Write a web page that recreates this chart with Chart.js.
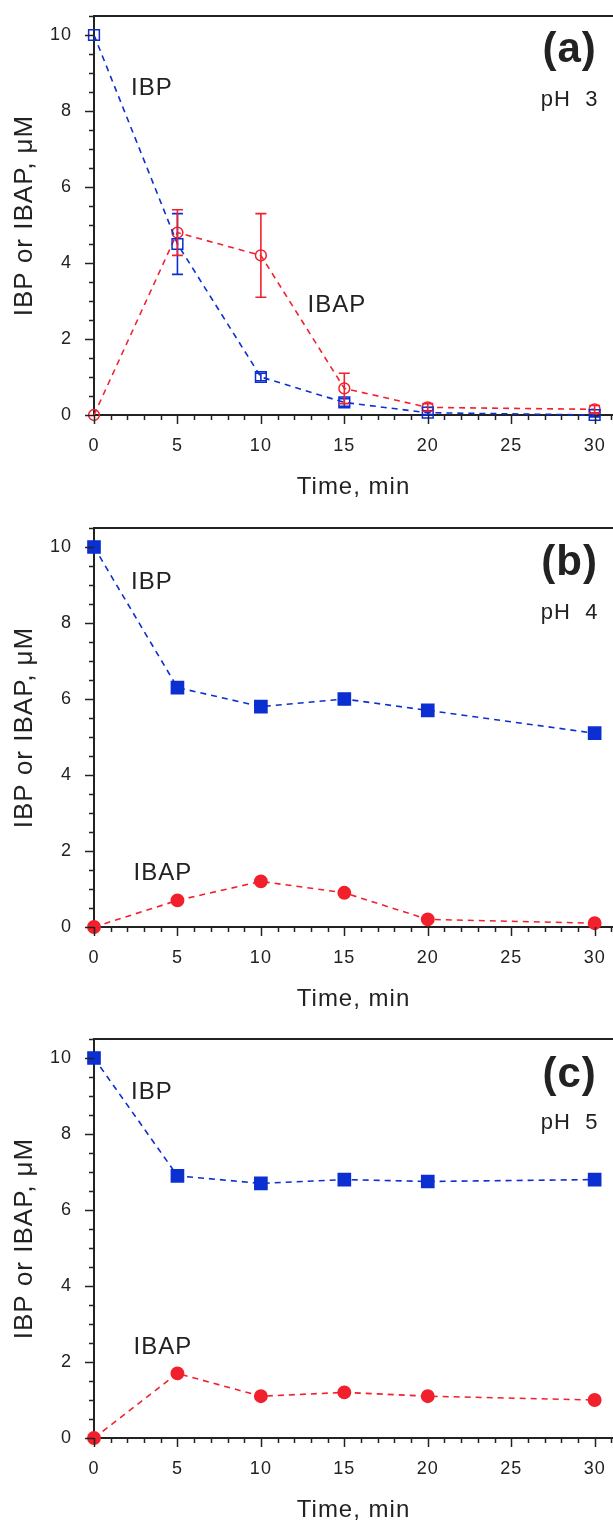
<!DOCTYPE html>
<html>
<head>
<meta charset="utf-8">
<script src="https://cdn.jsdelivr.net/npm/chart.js@4.4.1/dist/chart.umd.min.js"></script>
<style>
  html, body { margin: 0; padding: 0; background: #fff; overflow: hidden; width: 613px; height: 1521px; }
  .panel { position: absolute; left: 0; width: 613px; height: 500px; }
  .panel canvas { display: block; }
</style>
</head>
<body>
<div class="panel" style="top:0px"><canvas id="panelA" width="613" height="500"></canvas></div>
<div class="panel" style="top:512px"><canvas id="panelB" width="613" height="500"></canvas></div>
<div class="panel" style="top:1023px"><canvas id="panelC" width="613" height="500"></canvas></div>
<script>
// sampling times (min)
const times = [0, 5, 10, 15, 20, 30];

// pH 3 (open symbols, with error bars)
const ibpPh3 = [10, 4.5, 1.0, 0.33, 0.06, 0.0];
const ibpErrPh3 = [0, 0.8, 0.1, 0.1, 0.05, 0.05];
const ibapPh3 = [0, 4.8, 4.2, 0.7, 0.2, 0.15];
const ibapErrPh3 = [0, 0.6, 1.1, 0.4, 0.1, 0.1];

// pH 4
const ibpPh4 = [10, 6.3, 5.8, 6.0, 5.7, 5.1];
const ibapPh4 = [0, 0.7, 1.2, 0.9, 0.2, 0.1];

// pH 5
const ibpPh5 = [10, 6.9, 6.7, 6.8, 6.75, 6.8];
const ibapPh5 = [0, 1.7, 1.1, 1.2, 1.1, 1.0];

const xTickLabels = [0, 5, 10, 15, 20, 25, 30];
const yTickLabels = [0, 2, 4, 6, 8, 10];

const BLUE = '#0b2fd0';
const RED = '#f2202c';
const INK = '#222';
const FONT = "'Liberation Sans', Arial, sans-serif";

const toPoints = (vals) => times.map((t, i) => ({ x: t, y: vals[i] }));

// axis frame, tick marks, error bars and panel notes
const framePlugin = {
  id: 'frame',
  beforeDraw(chart) {
    chart.ctx.letterSpacing = '1px';
  },
  afterDatasetsDraw(chart) {
    const { ctx } = chart;
    const y = chart.scales.y;
    ctx.save();
    chart.data.datasets.forEach((ds, di) => {
      if (!ds.errors) return;
      const meta = chart.getDatasetMeta(di);
      ctx.strokeStyle = ds.borderColor;
      ctx.lineWidth = 1.6;
      meta.data.forEach((pt, i) => {
        const e = ds.errors[i];
        if (!e) return;
        const v = ds.data[i].y;
        const y1 = y.getPixelForValue(v - e);
        const y2 = y.getPixelForValue(v + e);
        ctx.beginPath();
        ctx.moveTo(pt.x, y1); ctx.lineTo(pt.x, y2);
        ctx.moveTo(pt.x - 5.5, y1); ctx.lineTo(pt.x + 5.5, y1);
        ctx.moveTo(pt.x - 5.5, y2); ctx.lineTo(pt.x + 5.5, y2);
        ctx.stroke();
      });
    });
    ctx.restore();
  },
  afterDraw(chart, args, opts) {
    const { ctx, chartArea } = chart;
    const x = chart.scales.x;
    const y = chart.scales.y;
    ctx.save();
    ctx.strokeStyle = INK;
    ctx.lineWidth = 2;
    ctx.beginPath();
    ctx.moveTo(chartArea.left - 1, chartArea.top);
    ctx.lineTo(chartArea.right, chartArea.top);
    ctx.stroke();

    ctx.lineWidth = 1.5;
    ctx.beginPath();
    y.ticks.forEach(t => {
      const p = Math.round(y.getPixelForValue(t.value)) + 0.5;
      const len = yTickLabels.includes(t.value) ? 9 : 5;
      ctx.moveTo(chartArea.left - len, p);
      ctx.lineTo(chartArea.left, p);
    });
    x.ticks.forEach(t => {
      const p = Math.round(x.getPixelForValue(t.value)) + 0.5;
      const len = xTickLabels.includes(t.value) ? 9 : 5;
      ctx.moveTo(p, chartArea.bottom);
      ctx.lineTo(p, chartArea.bottom + len);
    });
    ctx.stroke();

    ctx.fillStyle = INK;
    ctx.textAlign = 'center';
    ctx.textBaseline = 'middle';
    (opts.notes || []).forEach(n => {
      ctx.font = n.font;
      ctx.fillText(n.text, x.getPixelForValue(n.x), y.getPixelForValue(n.y));
    });
    ctx.restore();
  }
};

function makePanel(id, ibp, ibap, opts) {
  const ibpSet = {
    label: 'IBP',
    data: toPoints(ibp),
    borderColor: BLUE,
    borderWidth: 1.6,
    borderDash: [6, 5],
    pointStyle: 'rect',
    pointRadius: opts.open ? 7.6 : 8.6,
    pointBorderWidth: 1.5,
    pointBackgroundColor: opts.open ? 'rgba(0,0,0,0)' : BLUE,
    pointBorderColor: BLUE,
    clip: false
  };
  const ibapSet = {
    label: 'IBAP',
    data: toPoints(ibap),
    borderColor: RED,
    borderWidth: 1.6,
    borderDash: [6, 5],
    pointStyle: 'circle',
    pointRadius: opts.open ? 5.4 : 6.2,
    pointBorderWidth: 1.5,
    pointBackgroundColor: opts.open ? 'rgba(0,0,0,0)' : RED,
    pointBorderColor: RED,
    clip: false
  };
  if (opts.ibpErr) ibpSet.errors = opts.ibpErr;
  if (opts.ibapErr) ibapSet.errors = opts.ibapErr;

  return new Chart(document.getElementById(id), {
    type: 'line',
    data: { datasets: [ibpSet, ibapSet] },
    options: {
      responsive: false,
      animation: false,
      events: [],
      layout: { autoPadding: false, padding: { top: 16, left: 0, right: 0, bottom: 0 } },
      plugins: {
        legend: { display: false },
        tooltip: { enabled: false },
        frame: { notes: opts.notes }
      },
      scales: {
        x: {
          type: 'linear',
          min: 0,
          max: 31.1,
          afterBuildTicks: (s) => {
            const ticks = [];
            for (let v = 0; v <= 31; v++) ticks.push({ value: v });
            s.ticks = ticks;
          },
          afterFit: (s) => {
            s.height = 85;
            s.paddingLeft = 0;
            s.paddingRight = 0;
          },
          grid: { display: false, drawTicks: false },
          border: { display: true, color: INK, width: 2 },
          ticks: {
            autoSkip: false,
            maxRotation: 0,
            padding: 20,
            color: INK,
            font: { family: FONT, size: 18 },
            callback: (v) => xTickLabels.includes(v) ? String(v) : ''
          },
          title: {
            display: true,
            text: 'Time, min',
            color: INK,
            font: { family: FONT, size: 24, lineHeight: 1 },
            padding: { top: 1, bottom: 1 }
          }
        },
        y: {
          min: 0,
          max: 10.5,
          afterFit: (s) => {
            s.width = 94;
            s.paddingTop = 0;
            s.paddingBottom = 0;
          },
          grid: { display: false, drawTicks: false },
          border: { display: true, color: INK, width: 2 },
          ticks: {
            stepSize: 0.5,
            autoSkip: false,
            padding: 22,
            color: INK,
            font: { family: FONT, size: 18 },
            callback: (v) => yTickLabels.includes(v) ? String(v) : ''
          },
          title: {
            display: true,
            text: 'IBP or IBAP, \u03bcM',
            color: INK,
            font: { family: FONT, size: 26 },
            padding: { top: 9, bottom: 0 }
          }
        }
      }
    },
    plugins: [framePlugin]
  });
}

const bigFont = "bold 42px " + FONT;
const noteFont = "24px " + FONT;
const phFont = "22px " + FONT;

makePanel('panelA', ibpPh3, ibapPh3, {
  open: true,
  ibpErr: ibpErrPh3,
  ibapErr: ibapErrPh3,
  notes: [
    { text: '(a)', x: 28.5, y: 9.6, font: bigFont },
    { text: 'pH  3', x: 28.5, y: 8.29, font: phFont },
    { text: 'IBP', x: 3.47, y: 8.6, font: noteFont },
    { text: 'IBAP', x: 14.55, y: 2.89, font: noteFont }
  ]
});

makePanel('panelB', ibpPh4, ibapPh4, {
  open: false,
  notes: [
    { text: '(b)', x: 28.5, y: 9.58, font: bigFont },
    { text: 'pH  4', x: 28.5, y: 8.26, font: phFont },
    { text: 'IBP', x: 3.47, y: 9.08, font: noteFont },
    { text: 'IBAP', x: 4.13, y: 1.42, font: noteFont }
  ]
});

makePanel('panelC', ibpPh5, ibapPh5, {
  open: false,
  notes: [
    { text: '(c)', x: 28.5, y: 9.55, font: bigFont },
    { text: 'pH  5', x: 28.5, y: 8.29, font: phFont },
    { text: 'IBP', x: 3.47, y: 9.1, font: noteFont },
    { text: 'IBAP', x: 4.13, y: 2.39, font: noteFont }
  ]
});
</script>
</body>
</html>
